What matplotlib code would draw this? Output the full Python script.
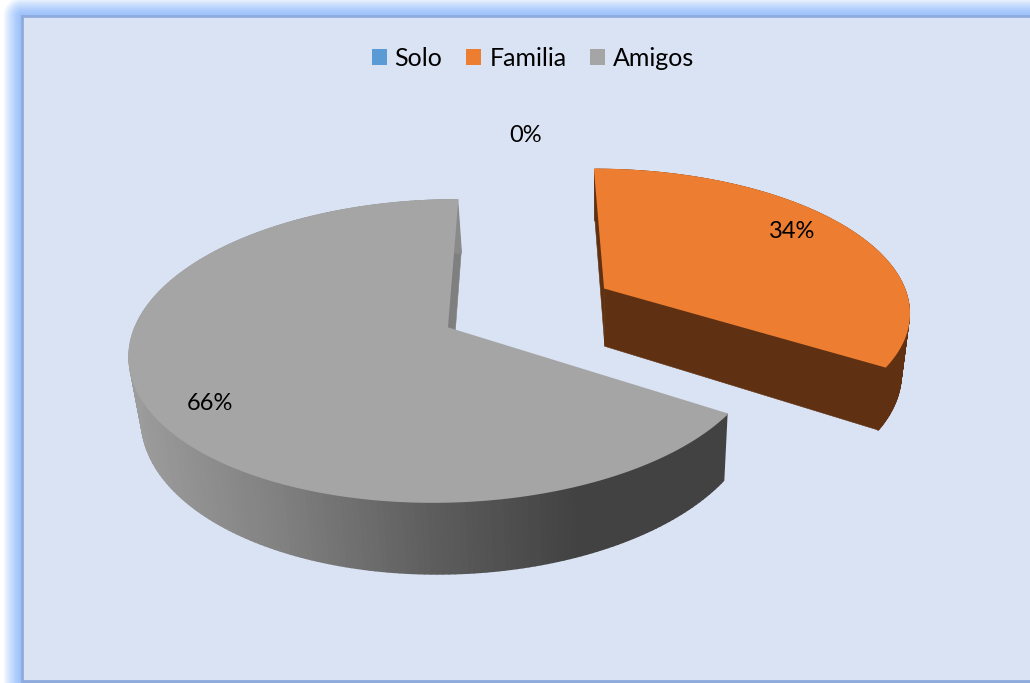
import numpy as np
import matplotlib
matplotlib.use('Agg')
import matplotlib.pyplot as plt
from matplotlib.collections import PolyCollection
from matplotlib.colors import LinearSegmentedColormap
from matplotlib.patches import Patch, Polygon, Rectangle

categories = ['Solo', 'Familia', 'Amigos']
values = [0, 34, 66]
pct_labels = ['0%', '34%', '66%']
colors = ['#5B9BD5', '#ED7D31', '#A5A5A5']

plt.rcParams['font.family'] = ['Lato', 'DejaVu Sans']

fig = plt.figure(figsize=(10.3, 6.83), dpi=100)
ax = fig.add_axes([0, 0, 1, 1])
ax.axis('off')


# FRAME

yy, xx = np.mgrid[0:683, 0:1030] + 0.5
dx = np.clip(22 - xx, 0, None)
dy = np.clip(16 - yy, 0, None)
fade = np.clip(np.hypot(dx, dy) / 19, 0, 1) ** 1.4
c1 = np.array([0x9B, 0xC1, 0xFB]) / 255
frame = c1 + (1 - c1) * fade[..., None]
ax.imshow(frame, extent=(0, 1030, 683, 0), aspect='auto', zorder=0)
ax.add_patch(Rectangle((22, 16), 1040, 665, fc='#DAE3F3', ec='#8FAADC', lw=2, zorder=1))
ax.set_xlim(0, 1030)
ax.set_ylim(683, 0)


# 3D PIE PROJECTION

CX, CY = 447, 328
A, B, SHEAR, PERSP = 312, 147.5, 12, 0.152
DEPTH = 61
EXPLODE = 0.59


def project(u, v, bottom=False):
    w = 1 + PERSP * v
    x = CX + (A * u + SHEAR * v) / w
    y = CY - B * v / w
    if bottom:
        y = y + DEPTH / w
        x = x - (x - 600) * 0.026
    return np.column_stack([x, y]) if np.ndim(x) else np.array([x, y])


def arc(a0, a1, off, bottom=False):
    t = np.radians(np.linspace(a0, a1, 240))
    return project(off[0] + np.sin(t), off[1] + np.cos(t), bottom)


def poly(points, color, z, lw=0.4):
    p = Polygon(points, closed=True, fc=color, ec=color, lw=lw, zorder=z)
    ax.add_patch(p)
    return p


def wall(top, low, facecolors, z):
    # one small quad per step, so the outline follows the tangent of the rim
    quads = [[top[i], top[i + 1], low[i + 1], low[i]] for i in range(len(top) - 1)]
    ax.add_collection(PolyCollection(quads, facecolors=facecolors, edgecolors=facecolors,
                                     linewidths=1.2, zorder=z))


angles = np.cumsum([0] + values) / sum(values) * 360

# familia, pulled out along its bisector
a0, a1 = angles[1], angles[2]
mid = np.radians((a0 + a1) / 2)
off = (EXPLODE * np.sin(mid), EXPLODE * np.cos(mid))
apex = project(off[0], off[1])
apex_b = project(off[0], off[1], True)
top = arc(a0, a1, off)
low = arc(a0, a1, off, True)
side = '#5F3112'
wall(top, low, side, 3)
poly([apex, top[0], low[0], apex_b], side, 3)
poly([apex, top[-1], low[-1], apex_b], side, 3)
poly(np.vstack([[apex], top]), colors[1], 4, lw=1.3)

# amigos
a0, a1 = angles[2], angles[3]
apex = project(0, 0)
apex_b = project(0, 0, True)
top = arc(a0, a1, (0, 0))
low = arc(a0, a1, (0, 0), True)
poly([apex, top[-1], low[-1], apex_b], '#7F7F7F', 3)
cmap = LinearSegmentedColormap.from_list('side', ['#9C9C9C', '#808080', '#5E5E5E', '#424242', '#424242'])
shade = cmap(np.clip((top[:-1, 0] - 130) / 600, 0, 1))
seg = np.linspace(a0, a1, 240)[:-1]
shade[seg > 300] = matplotlib.colors.to_rgba('#8A8A8A')
wall(top, low, shade, 5)
poly(np.vstack([[apex], top]), colors[2], 6, lw=1.3)
ax.set_xlim(0, 1030)
ax.set_ylim(683, 0)


# LABELS

ax.text(526, 135, pct_labels[0], fontsize=17, color='black', ha='center', va='center', zorder=8)
ax.text(792, 231, pct_labels[1], fontsize=17, color='black', ha='center', va='center', zorder=8)
ax.text(210, 403, pct_labels[2], fontsize=17, color='black', ha='center', va='center', zorder=8)

handles = [Patch(fc=c, ec='none', label=n) for c, n in zip(colors, categories)]
ax.legend(handles=handles, ncols=3, loc='center', bbox_to_anchor=(533 / 1030, 1 - 58 / 683),
          bbox_transform=fig.transFigure, frameon=False, fontsize=18, handlelength=0.6,
          handleheight=0.6, handletextpad=0.32, columnspacing=0.95, labelcolor='black')

fig.savefig('out.png', dpi=100)
